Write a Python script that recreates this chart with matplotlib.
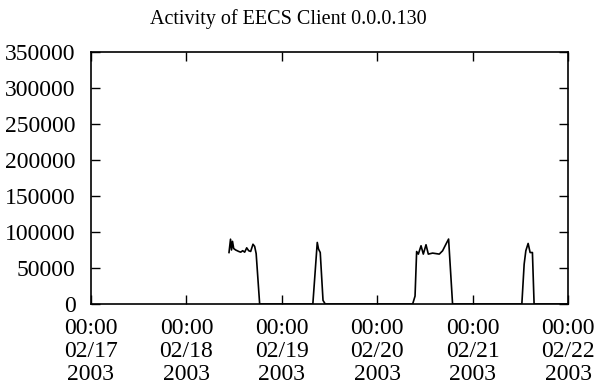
import pandas as pd
import matplotlib
matplotlib.use("Agg")
import matplotlib.pyplot as plt

# Activity samples: hours after 2003-02-17 00:00 and value
hours = [34.72, 35.10, 35.35, 35.60, 35.90, 36.40, 37.16, 37.66, 38.16, 38.66,
         39.17, 39.67, 40.17, 40.75, 41.17, 41.55, 42.43,
         55.81, 56.92, 57.24, 57.67, 58.37, 58.93,
         80.92, 81.52, 81.92, 82.35, 83.03, 83.60, 84.28, 84.86, 85.94, 87.62,
         88.45, 89.30, 89.96, 90.96,
         108.39, 108.97, 109.39, 109.97, 110.47, 111.05, 111.47, 119.76]
activity = [71500, 90000, 75000, 87000, 77000, 75000, 73000, 72000, 74000, 72000,
            78000, 74000, 73000, 83000, 80000, 70000, 0,
            0, 85500, 76300, 71500, 5000, 0,
            0, 11000, 72900, 69300, 80900, 69300, 82300, 69300, 70700, 69300,
            73900, 83200, 90200, 0,
            0, 55300, 73900, 84100, 71500, 71500, 0, 0]

start = pd.Timestamp("2003-02-17 00:00")
end = pd.Timestamp("2003-02-22 00:00")
yticks = [0, 50000, 100000, 150000, 200000, 250000, 300000, 350000]
title = "Activity of EECS Client 0.0.0.130"

plt.rcParams['font.family'] = ['Liberation Serif', 'DejaVu Serif']

times = start + pd.to_timedelta(hours, unit="h")

fig = plt.figure(figsize=(5.95, 3.87), dpi=100)
# axes box: x 91..568 px, y 52..304 px
ax = fig.add_axes([91 / 595, 1 - 304 / 387, 477 / 595, 252 / 387])

ax.plot(times, activity, color="black", linewidth=1.2)

ax.set_xlim(start, end)
ax.set_ylim(0, 350000)
ax.set_yticks(yticks)
ax.set_yticklabels([str(v) for v in yticks], fontsize=17)

days = pd.date_range(start, end, freq="D")
ax.set_xticks(days)
ax.set_xticklabels([d.strftime("%H:%M\n%m/%d\n%Y") for d in days], fontsize=17,
                   linespacing=1.14)

ax.tick_params(direction="in", length=6.5, width=1.0, top=True, right=True)
ax.tick_params(axis="x", pad=10)
ax.tick_params(axis="y", pad=11)
for side in ax.spines.values():
    side.set_linewidth(1.2)

fig.text(288 / 595, 1 - 19 / 387, title, fontsize=14.5, ha="center", va="center")

fig.savefig("out.png", dpi=100)
